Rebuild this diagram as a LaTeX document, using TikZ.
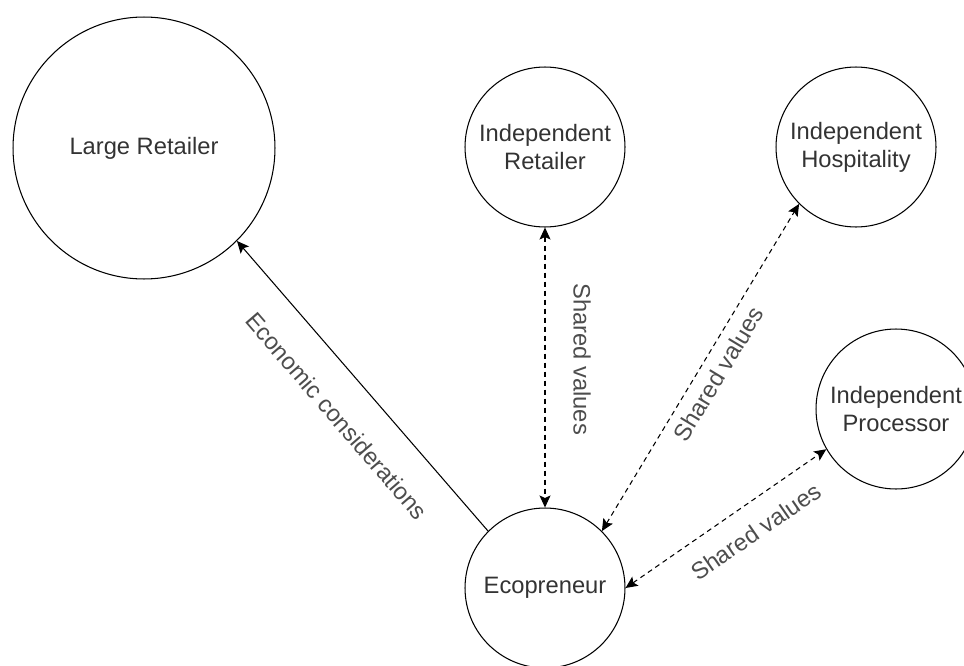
\documentclass[tikz,border=0pt]{standalone}
\usepackage{fontspec}
\setmainfont{Liberation Sans}
\usetikzlibrary{arrows.meta}

\definecolor{inktext}{HTML}{333333}
\definecolor{inklabel}{HTML}{4D4D4D}

\tikzset{
    party/.style={circle, draw, line width=0.6pt, inner sep=0pt, align=center,
        text=inktext, font=\fontsize{13.5}{16}\selectfont, minimum size=3.2cm},
    bigparty/.style={party, minimum size=5.24cm},
    tiehead/.tip={Stealth[length=2.4mm, width=2.2mm, inset=0.5mm]},
    shared/.style={line width=0.6pt, dash pattern=on 1mm off 0.8mm, tiehead-tiehead},
    pull/.style={line width=0.6pt, -tiehead},
    tielabel/.style={text=inklabel, font=\fontsize{13.5}{16}\selectfont, sloped}
}

\begin{document}
\begin{tikzpicture}[x=0.02cm, y=-0.02cm]
    \useasboundingbox (0,0) rectangle (964,666);

    \begin{scope}[every node/.style={party}]
        \node[bigparty] (LR) at (144,148) {Large Retailer};
        \node (IR) at (545,147) {Independent\\Retailer};
        \node (IH) at (856,147) {Independent\\Hospitality};
        \node (IP) at (896,409) {Independent\\Processor};
        \node (E) at (545,588) {Ecopreneur};
    \end{scope}

    \begin{scope}
        \draw[pull] (E.135) -- node[tielabel, pos=0.485, below=0.48cm] {Economic considerations} (LR.-45);
        \draw[shared] (IR.south) -- node[tielabel, pos=0.47, above=0.44cm] {Shared values} (E.north);
        \draw[shared] (E.45) -- node[tielabel, pos=0.51, below=2pt] {Shared values} (IH.225);
        \draw[shared] (E.east) -- node[tielabel, pos=0.57, below=0.25cm] {Shared values} (IP.210);
    \end{scope}
\end{tikzpicture}
\end{document}
